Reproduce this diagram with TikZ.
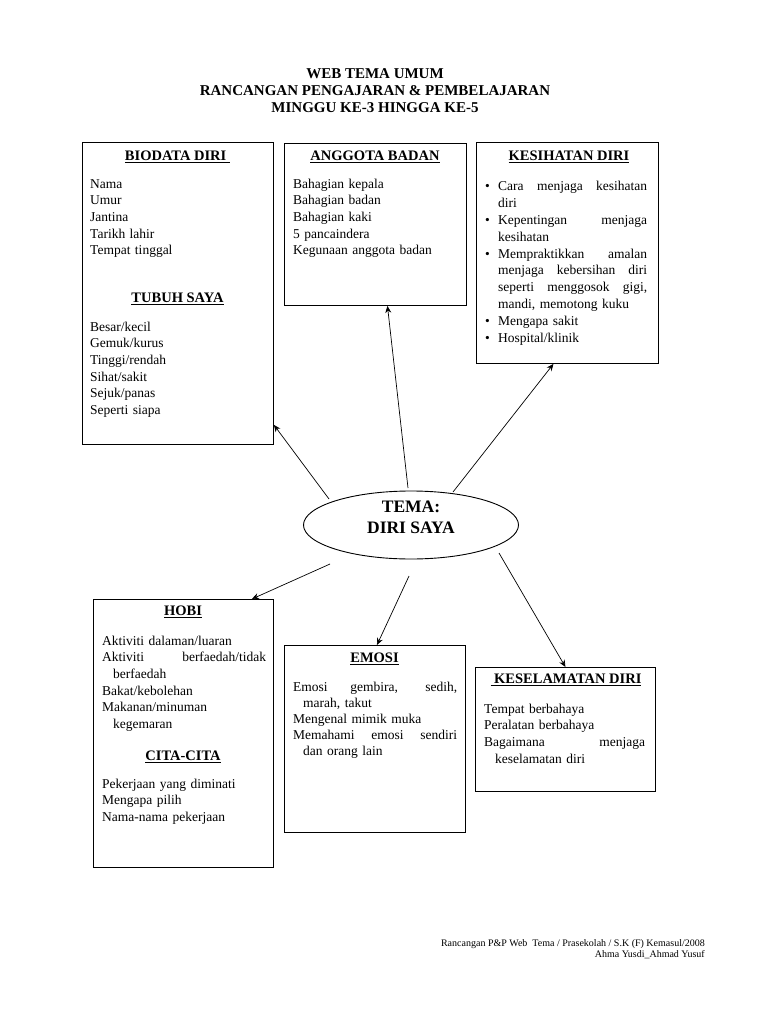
\documentclass[tikz,border=0pt]{standalone}
\usepackage{fontspec}
\setmainfont{Liberation Serif}
\usetikzlibrary{shapes.geometric,arrows.meta}
\newcommand\isifont{\fontsize{13.5}{16.6}\selectfont}
\newcommand\judulfont{\bfseries\fontsize{14.5}{17}\selectfont}
\newcommand\rata[2][\linewidth]{\makebox[#1][s]{\spaceskip=0.25em plus 1fil\relax #2}}
\newcommand\tb{\makebox[13pt][l]{\textbullet}}
\begin{document}
\begin{tikzpicture}[x=1pt, y=-1pt, >={Stealth[length=7pt, width=6pt]},
    kotak/.style={draw, line width=0.9pt, anchor=north west, inner sep=0pt},
    judul/.style={font=\judulfont, inner sep=0pt},
    isi/.style={anchor=north west, inner sep=0pt, align=left, text width=#1, font=\isifont},
    panah/.style={->, line width=0.7pt}]
    \useasboundingbox (0,0) rectangle (768,1024);

    % tajuk
    \node[font=\bfseries\fontsize{15}{17}\selectfont, align=center] (tajuk) at (375,91)
        {WEB TEMA UMUM\\RANCANGAN PENGAJARAN \& PEMBELAJARAN\\MINGGU KE-3 HINGGA KE-5};

    % kotak-kotak
    \node[kotak, minimum width=191pt, minimum height=302pt] (bio) at (82,142) {};
    \node[kotak, minimum width=182pt, minimum height=162pt] (ang) at (284,143) {};
    \node[kotak, minimum width=182pt, minimum height=221pt] (kes) at (476,142) {};
    \node[kotak, minimum width=180pt, minimum height=268pt] (hobi) at (93,599) {};
    \node[kotak, minimum width=181pt, minimum height=187pt] (emosi) at (284,645) {};
    \node[kotak, minimum width=180pt, minimum height=124pt] (kesel) at (475,667) {};

    % biodata diri & tubuh saya
    \node[judul] (bio-j) at (177.5,157) {\underline{BIODATA DIRI\ }};
    \node[isi=180pt] (bio-l) at (90,176.4)
        {\strut Nama\\Umur\\Jantina\\Tarikh lahir\\Tempat tinggal};
    \node[judul] (tubuh-j) at (177.5,299) {\underline{TUBUH SAYA}};
    \node[isi=180pt] (tubuh-l) at (90,319.4)
        {\strut Besar/kecil\\Gemuk/kurus\\Tinggi/rendah\\Sihat/sakit\\Sejuk/panas\\Seperti siapa};

    % anggota badan
    \node[judul] (ang-j) at (375,157) {\underline{ANGGOTA BADAN}};
    \node[isi=170pt] (ang-l) at (293,176.4)
        {\strut Bahagian kepala\\Bahagian badan\\Bahagian kaki\\5 pancaindera\\Kegunaan anggota badan};

    % kesihatan diri
    \node[judul] (kes-j) at (569,157) {\underline{KESIHATAN DIRI}};
    \node[isi=162pt, font=\fontsize{13.5}{16.9}\selectfont] (kes-l) at (485,178.4)
        {\strut\tb\rata[149pt]{Cara menjaga kesihatan}\\
         \hspace*{13pt}diri\\
         \tb\rata[149pt]{Kepentingan menjaga}\\
         \hspace*{13pt}kesihatan\\
         \tb\rata[149pt]{Mempraktikkan amalan}\\
         \hspace*{13pt}\rata[149pt]{menjaga kebersihan diri}\\
         \hspace*{13pt}\rata[149pt]{seperti menggosok gigi,}\\
         \hspace*{13pt}mandi, memotong kuku\\
         \tb Mengapa sakit\\
         \tb Hospital/klinik};

    % hobi & cita-cita
    \node[judul] (hobi-j) at (183,612) {\underline{HOBI}};
    \node[isi=164pt] (hobi-l) at (102,633.4)
        {\strut Aktiviti dalaman/luaran\\
         \rata{Aktiviti berfaedah/tidak}\\
         \hspace*{11pt}berfaedah\\
         Bakat/kebolehan\\
         Makanan/minuman\\
         \hspace*{11pt}kegemaran};
    \node[judul] (cita-j) at (183,757) {\underline{CITA-CITA}};
    \node[isi=164pt] (cita-l) at (102,776.4)
        {\strut Pekerjaan yang diminati\\Mengapa pilih\\Nama-nama pekerjaan};

    % emosi
    \node[judul] (emosi-j) at (374.5,659) {\underline{EMOSI}};
    \node[isi=164pt, font=\fontsize{13.5}{16}\selectfont] (emosi-l) at (293,680.4)
        {\strut\rata{Emosi gembira, sedih,}\\
         \hspace*{10pt}marah, takut\\
         Mengenal mimik muka\\
         \rata{Memahami emosi sendiri}\\
         \hspace*{10pt}dan orang lain};

    % keselamatan diri
    \node[judul] (kesel-j) at (566,680) {\underline{\ KESELAMATAN DIRI}};
    \node[isi=161pt] (kesel-l) at (484,701.4)
        {\strut Tempat berbahaya\\
         Peralatan berbahaya\\
         \rata{Bagaimana menjaga}\\
         \hspace*{11pt}keselamatan diri};

    % tema
    \node[draw, ellipse, line width=0.9pt, minimum width=215pt, minimum height=68pt] (tema) at (411,525) {};
    \node[font=\bfseries\fontsize{17.5}{21}\selectfont, align=center] (tema-t) at (411,517) {TEMA:\\DIRI SAYA};

    % anak panah
    \coordinate (s-bio) at (329,499);
    \coordinate (s-ang) at (408,488);
    \coordinate (s-kes) at (453,492);
    \coordinate (s-hobi) at (330,564);
    \coordinate (s-emosi) at (409,576);
    \coordinate (s-kesel) at (499,553);
    \draw[panah] (s-bio) -- ([yshift=20pt]bio.south east);
    \draw[panah] (s-ang) -- ([xshift=12pt]ang.south);
    \draw[panah] (s-kes) -- ([xshift=-14pt]kes.south);
    \draw[panah] (s-hobi) -- ([xshift=-22pt]hobi.north east);
    \draw[panah] (s-emosi) -- ([xshift=2pt]emosi.north);
    \draw[panah] (s-kesel) -- (kesel.north);

    % kaki
    \node[anchor=north east, align=right, inner sep=0pt, font=\fontsize{10}{11}\selectfont] (kaki) at (705,939)
        {Rancangan P\&P Web \ Tema / Prasekolah / S.K (F) Kemasul/2008\\Ahma Yusdi\_Ahmad Yusuf};
\end{tikzpicture}
\end{document}
